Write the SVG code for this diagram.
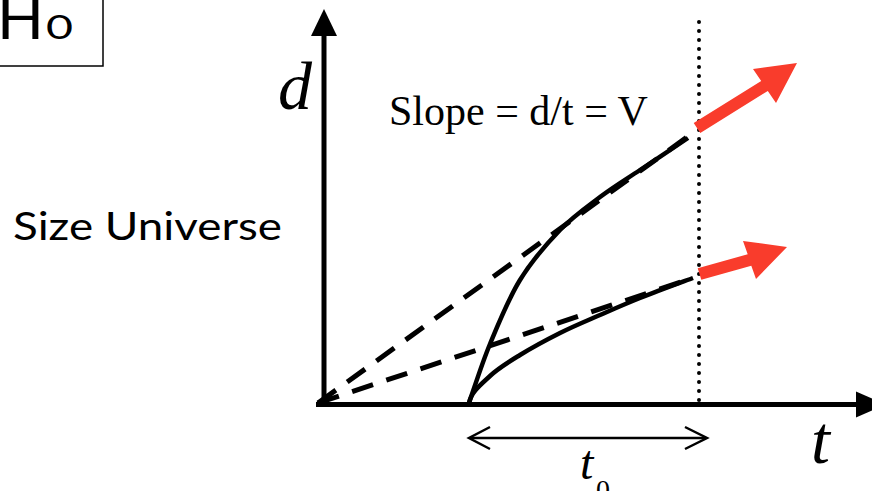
<svg xmlns="http://www.w3.org/2000/svg" width="872" height="491" viewBox="0 0 872 491">
<style>
.axis{stroke:#000;stroke-width:5;fill:none}
.curve{stroke:#000;stroke-width:4.5;fill:none}
.dash{stroke:#000;stroke-width:5;fill:none;stroke-dasharray:22 14}
.dot{stroke:#000;stroke-width:4;fill:none;stroke-dasharray:0 9;stroke-linecap:round}
.red{fill:#F93C2C}
.serif{font-family:"Liberation Serif","Times New Roman",serif;fill:#000}
.sans{font-family:Lato,"Liberation Sans",sans-serif;fill:#000}
</style>
<rect width="872" height="491" fill="#fff"/>
<g id="h0-box">
  <rect x="-3" y="-3" width="106" height="69" fill="none" stroke="#000" stroke-width="1.5"/>
  <text class="sans" x="-3" y="39" font-size="58" textLength="47" lengthAdjust="spacingAndGlyphs">H</text>
  <text class="sans" x="46" y="39" font-size="32" textLength="27" lengthAdjust="spacingAndGlyphs">0</text>
</g>
<g id="axes">
  <line class="axis" x1="324" y1="404" x2="324" y2="34"/>
  <polygon points="324,9 311,36 337,36" fill="#000"/>
  <line class="axis" x1="316" y1="404.5" x2="858" y2="404.5"/>
  <polygon points="886,404.5 856,391.5 856,417.5" fill="#000"/>
  <text class="serif" x="278" y="109" font-size="68" font-style="italic">d</text>
  <text class="serif" x="811" y="463" font-size="68" font-style="italic">t</text>
</g>
<g id="label-size">
  <text class="sans" x="13" y="240" font-size="39" textLength="269" lengthAdjust="spacingAndGlyphs">Size Universe</text>
</g>
<g id="label-slope">
  <text class="serif" x="389" y="125" font-size="42">Slope = d/t = V</text>
</g>
<g id="connectors">
  <line class="dot" x1="699" y1="22" x2="699" y2="402"/>
  <line class="dash" x1="318" y1="403" x2="690" y2="135"/>
  <line class="dash" x1="318" y1="403" x2="693" y2="278"/>
  <path class="curve" d="M469,403 C472.5,393.2 481.5,364.5 490,344 C498.5,323.5 508.3,299 520,280 C531.7,261 546.7,243.8 560,230 C573.3,216.2 586.7,207 600,197 C613.3,187 625.3,179.8 640,170 C654.7,160.2 680,143.3 688,138"/>
  <path class="curve" d="M469,403 C471,392 481.5,384 490,376 C498.5,368 508.3,362.2 520,355 C531.7,347.8 546.7,339.7 560,333 C573.3,326.3 586.7,320.8 600,315 C613.3,309.2 624.5,304.2 640,298 C655.5,291.8 684.2,281.3 693,278"/>
  <polygon class="red" points="693.7,123 761.2,81 753,69 797,63 776,103 767.8,91 700.3,133"/>
  <polygon class="red" points="697.7,268.3 747.7,254.3 743,241 787,247 756,279 751.3,265.7 701.3,279.7"/>
  <g id="t0-span" stroke="#000" stroke-width="2.5" fill="none">
    <line x1="470" y1="438" x2="706" y2="438"/>
    <polyline points="490,427 469,438 490,449"/>
    <polyline points="685,427 707,438 685,449"/>
  </g>
</g>
<g id="label-t0">
  <text class="serif" x="580" y="479" font-size="48" font-style="italic">t</text>
  <text class="serif" x="596" y="499" font-size="28">0</text>
</g>
</svg>
